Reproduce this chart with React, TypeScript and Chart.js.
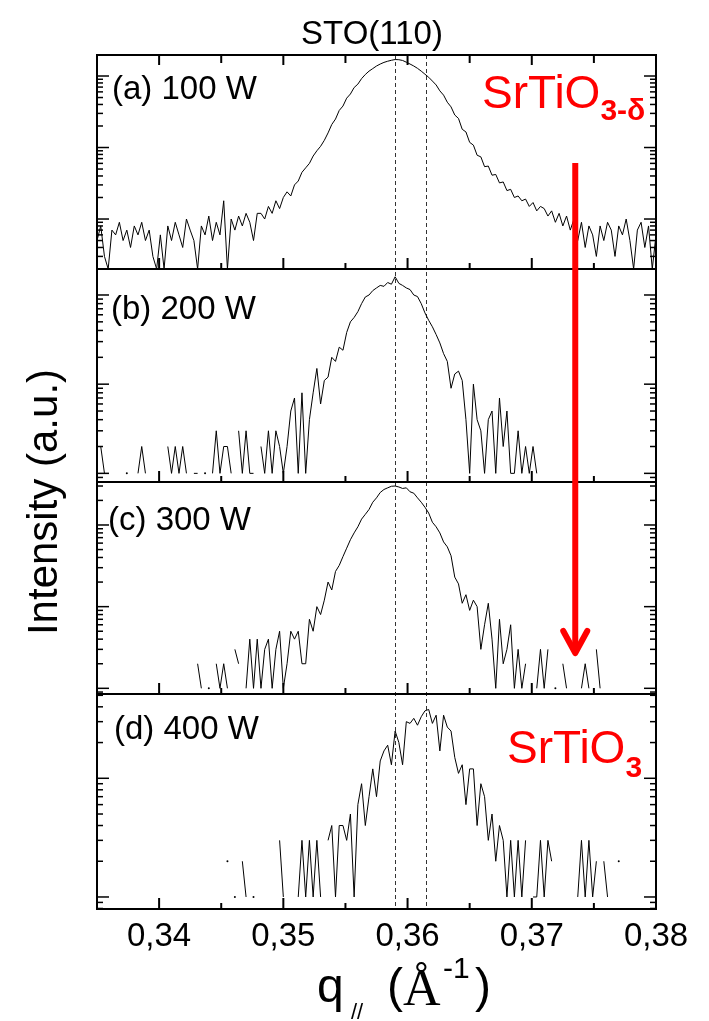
import React, { useEffect, useRef } from "react";
import { Chart, registerables } from "chart.js";

Chart.register(...registerables);

// ---------------- data ----------------
const Q_START = 0.335; // first q of the measurement grid
const Q_STEP = 0.0003; // q step of the measurement grid
const Q_MIN = 0.335;
const Q_MAX = 0.38;
const X_TICK_VALUES = [0.34, 0.35, 0.36, 0.37, 0.38];
const X_MINOR_TICK_VALUES = [0.345, 0.355, 0.365, 0.375];
const REFERENCE_Q = [0.359, 0.3615];
const ARROW_Q = 0.3735;
const PANEL_LABELS = ["(a) 100 W", "(b) 200 W", "(c) 300 W", "(d) 400 W"];
const SERIES_START_INDEX = [0, 0, 27, 35];
const Y_MIN = [2.0, 0.8, 0.852, 0.792];
const Y_MAX = [1967, 195.6, 336, 51.3];

const intensity100W = [
  5, 8, 3, 2, 7, 6, 9, 5, 7, 4,
  8, 6, 9, 5, 7, 3, 2, 6, 2, 8,
  5, 9, 6, 4, 10, 7, 5, 2, 8, 6,
  11, 5, 9, 6, 18, 2, 10, 7, 11, 8,
  12, 9, 5, 12, 12, 10, 15, 12, 18, 14,
  20, 24, 21, 30, 34, 45, 52, 60, 76, 90,
  104, 126, 160, 210, 250, 330, 380, 490, 560, 690,
  770, 920, 1050, 1170, 1270, 1380, 1470, 1550, 1610, 1660,
  1700, 1690, 1650, 1560, 1470, 1380, 1280, 1170, 1060, 960,
  850, 750, 620, 540, 430, 370, 285, 255, 180, 165,
  118, 108, 78, 74, 54, 55, 41, 42, 32, 33,
  25, 26, 20, 21, 18, 19, 15, 17, 13, 15,
  14, 11, 13, 9, 12, 8, 11, 7, 10, 5,
  9, 4, 8, 6, 3, 8, 5, 9, 7, 3,
  8, 6, 10, 5, 2, 7, 9, 4, 8, 2,
  6,
];

const intensity200W = [
  2, 2, 1, null, null, null, null, null, 1, null,
  null, 1, 2, 1, null, null, null, null, null, 2,
  1, 2, 1, 2, 1, null, 1, 1, null, 1,
  null, 1, 3, 1, 2, 2, 1, null, 3, 1,
  3, 1, 1, null, 2, 1, 3, 1, 3, 2,
  1, 2, 5, 7, 1, 8, 1, 4, 8, 15,
  6, 11, 12, 20, 18, 26, 24, 38, 50, 56,
  65, 80, 95, 100, 112, 120, 128, 125, 138, 132,
  160, 135, 128, 120, 115, 100, 96, 80, 63, 52,
  44, 36, 29, 22, 18, 9, 13, 14, 11, 4,
  1, 10, 4, 3, 1, 4, 5, 1, 7, 2,
  5, 1, 1, 3, 1, 2, 1, 2, 1,
];

const intensity300W = [
  2, 1, null, 1, null, 2, 1, 2, 1, null,
  3, 2, null, 1, 4, 1, 4, 1, 3, 4,
  1, 3, 5, 1, 2, 5, 4, 5, 2, 2,
  7, 5, 10, 8, 12, 20, 16, 27, 32, 41,
  52, 66, 80, 95, 118, 135, 155, 190, 215, 250,
  272, 285, 298, 300, 292, 280, 285, 255, 245, 215,
  190, 165, 140, 108, 95, 80, 62, 54, 42, 23,
  19, 11, 14, 9, 12, 10, 3, 6, 11, 4,
  1, 7, 2, 3, 6, 1, 3, 1, 2, null,
  null, 1, 3, 1, 3, null, 1, null, 2, 1,
  null, null, null, 1, 2, 1, null, 3, 1,
];

const intensity400W = [
  2, null, 1, null, 2, 1, null, 1, null, null,
  null, null, null, null, 3, 1, null, null, null, 1,
  3, 1, 3, 1, 3, 1, null, 3, 4, 1,
  4, 4, 3, 5, 1, 6, 9, 4, 7, 12,
  7, 14, 17, 19, 13, 25, 20, 13, 30, 29,
  32, 28, 33, 37, 38, 29, 34, 17, 34, 27,
  25, 15, 11, 13, 6, 12, 12, 4, 9, 7,
  3, 5, 2, 4, 3, 1, 3, 1, 3, 1,
  3, null, 1, 1, 3, 1, 3, 2, null, null,
  null, null, null, null, 1, 3, 1, 3, 1, 2,
  null, 2, 1, null, null, 2,
];

const SERIES = [intensity100W, intensity200W, intensity300W, intensity400W];

// ---------------- layout / style ----------------
const W = 709;
const H = 1021;
const FONT = "'Liberation Sans', Arial, Helvetica, sans-serif";
const SERIF = "'Liberation Serif', 'Times New Roman', serif";
const Y_IDS = ["ya", "yb", "yc", "yd"];
const PANEL_WEIGHTS = [214, 213, 212, 215];
const LABEL_X = [112, 111, 108, 114];
const LABEL_DY = [44, 50, 48, 45];

function toPoints(vals: (number | null)[], start: number) {
  return vals.map((v, k) => ({
    x: +(Q_START + (start + k) * Q_STEP).toFixed(5),
    y: v,
  }));
}

function isolatedRadius(c: any) {
  const d = c.dataset.data as { x: number; y: number | null }[];
  const i = c.dataIndex;
  if (!d[i] || d[i].y == null) return 0;
  const prev = i > 0 ? d[i - 1].y : null;
  const next = i < d.length - 1 ? d[i + 1].y : null;
  return prev == null && next == null ? 1 : 0;
}

function seg(ctx: CanvasRenderingContext2D, x1: number, y1: number, x2: number, y2: number) {
  ctx.beginPath();
  ctx.moveTo(x1, y1);
  ctx.lineTo(x2, y2);
  ctx.stroke();
}

const decorPlugin = {
  id: "decor",
  beforeDatasetsDraw(chart: any) {
    const { ctx, chartArea } = chart;
    const xs = chart.scales.x;
    ctx.save();
    ctx.strokeStyle = "#333";
    ctx.lineWidth = 1;
    ctx.setLineDash([4, 3]);
    REFERENCE_Q.forEach((q) => {
      const px = Math.round(xs.getPixelForValue(q)) + 0.5;
      seg(ctx, px, chartArea.top, px, chartArea.bottom);
    });
    ctx.restore();
  },
  beforeDatasetDraw(chart: any, args: any) {
    const ys = args.meta.yScale;
    const { ctx, chartArea } = chart;
    ctx.save();
    ctx.beginPath();
    ctx.rect(chartArea.left, ys.top, chartArea.right - chartArea.left, ys.bottom - ys.top);
    ctx.clip();
  },
  afterDatasetDraw(chart: any) {
    chart.ctx.restore();
  },
  afterDraw(chart: any) {
    const { ctx, chartArea } = chart;
    const xs = chart.scales.x;
    const L = chartArea.left;
    const R = chartArea.right;
    ctx.save();
    ctx.strokeStyle = "#000";
    ctx.setLineDash([]);

    // y ticks (log, inward on both sides) and x ticks
    Y_IDS.forEach((id, p) => {
      const s = chart.scales[id];
      const lo = s.min;
      const hi = s.max;
      ctx.lineWidth = 1.5;
      for (let e = Math.floor(Math.log10(lo)); e <= Math.ceil(Math.log10(hi)); e++) {
        for (let m = 1; m <= 9; m++) {
          const v = m * Math.pow(10, e);
          if (v <= lo * 1.001 || v >= hi / 1.001) continue;
          const py = s.getPixelForValue(v);
          const len = m === 1 ? 12 : 6;
          seg(ctx, L, py, L + len, py);
          seg(ctx, R - len, py, R, py);
        }
      }
      ctx.lineWidth = 2;
      X_TICK_VALUES.forEach((q) => {
        const px = xs.getPixelForValue(q);
        seg(ctx, px, s.bottom, px, s.bottom - 11);
        if (p === 0) seg(ctx, px, s.top, px, s.top + 10);
      });
      X_MINOR_TICK_VALUES.forEach((q) => {
        const px = xs.getPixelForValue(q);
        seg(ctx, px, s.bottom, px, s.bottom - 6);
        if (p === 0) seg(ctx, px, s.top, px, s.top + 8);
      });
    });

    // frames
    ctx.lineWidth = 2;
    Y_IDS.forEach((id) => {
      const s = chart.scales[id];
      ctx.strokeRect(L, s.top, R - L, s.bottom - s.top);
    });

    // panel labels
    ctx.fillStyle = "#000";
    ctx.textAlign = "left";
    ctx.textBaseline = "alphabetic";
    ctx.font = `33px ${FONT}`;
    PANEL_LABELS.forEach((t, p) => {
      const s = chart.scales[Y_IDS[p]];
      ctx.fillText(t, LABEL_X[p], s.top + LABEL_DY[p]);
    });

    // title
    ctx.textAlign = "center";
    ctx.font = `33px ${FONT}`;
    ctx.fillText("STO(110)", 372, 44);

    // y axis title
    ctx.save();
    ctx.translate(57, 502);
    ctx.rotate(-Math.PI / 2);
    ctx.textAlign = "center";
    ctx.font = `42px ${FONT}`;
    ctx.fillText("Intensity (a.u.)", 0, 0);
    ctx.restore();

    // x axis title  q// (Å-1)
    ctx.textAlign = "left";
    ctx.font = `48px ${FONT}`;
    ctx.fillText("q", 317, 1002);
    ctx.font = `22px ${FONT}`;
    ctx.fillText("//", 351, 1019);
    ctx.font = `48px ${FONT}`;
    ctx.fillText("(", 387, 1002);
    ctx.font = `52px ${SERIF}`;
    ctx.fillText("\u00C5", 403, 1005);
    ctx.font = `30px ${FONT}`;
    ctx.fillText("-1", 443, 978);
    ctx.font = `48px ${FONT}`;
    ctx.fillText(")", 475, 1002);

    // red annotations
    ctx.fillStyle = "#ff0000";
    ctx.strokeStyle = "#ff0000";
    const sa = chart.scales.ya;
    const sc = chart.scales.yc;
    const sd = chart.scales.yd;
    ctx.font = `46px ${FONT}`;
    ctx.fillText("SrTiO", 482, sa.top + 53);
    let w = ctx.measureText("SrTiO").width;
    ctx.font = `bold 30px ${FONT}`;
    ctx.fillText("3-\u03B4", 482 + w, sa.top + 65);

    ctx.font = `46px ${FONT}`;
    ctx.fillText("SrTiO", 507, sd.top + 69);
    w = ctx.measureText("SrTiO").width;
    ctx.font = `bold 30px ${FONT}`;
    ctx.fillText("3", 507 + w, sd.top + 83);

    const ax = xs.getPixelForValue(ARROW_Q);
    ctx.lineWidth = 6;
    ctx.lineCap = "butt";
    seg(ctx, ax, sa.top + 108, ax, sc.top + 170);
    ctx.lineJoin = "round";
    ctx.lineCap = "round";
    ctx.beginPath();
    ctx.moveTo(ax - 12, sc.top + 149);
    ctx.lineTo(ax, sc.top + 171);
    ctx.lineTo(ax + 12, sc.top + 149);
    ctx.stroke();

    ctx.restore();
  },
};

function yScale(p: number) {
  return {
    type: "logarithmic" as const,
    position: "left" as const,
    stack: "panels",
    stackWeight: PANEL_WEIGHTS[p],
    weight: 4 - p,
    min: Y_MIN[p],
    max: Y_MAX[p],
    bounds: "data" as const,
    grid: { display: false, drawTicks: false },
    border: { display: false },
    ticks: { display: false },
  };
}

export default function App() {
  const ref = useRef<HTMLCanvasElement | null>(null);

  useEffect(() => {
    if (!ref.current) return;
    const datasets = SERIES.map((vals, p) => ({
      label: PANEL_LABELS[p],
      data: toPoints(vals, SERIES_START_INDEX[p]),
      yAxisID: Y_IDS[p],
      borderColor: "#000",
      borderWidth: 1,
      backgroundColor: "#000",
      pointRadius: isolatedRadius,
      pointBorderWidth: 0,
      pointBackgroundColor: "#000",
      tension: 0,
      spanGaps: false,
      fill: false,
    }));

    const chart = new Chart(ref.current, {
      type: "line",
      data: { datasets: datasets as any },
      options: {
        responsive: false,
        animation: false,
        devicePixelRatio: 1,
        events: [],
        layout: { padding: { left: 97, right: 53, top: 55, bottom: 0 } },
        plugins: {
          legend: { display: false },
          tooltip: { enabled: false },
          title: { display: false },
        },
        scales: {
          x: {
            type: "linear",
            position: "bottom",
            min: Q_MIN,
            max: Q_MAX,
            bounds: "data",
            grid: { display: false, drawTicks: false },
            border: { display: false },
            ticks: {
              color: "#000",
              font: { family: FONT, size: 33 },
              padding: 8,
              maxRotation: 0,
              autoSkip: false,
              callback: (v: any) => Number(v).toFixed(2).replace(".", ","),
            },
            afterBuildTicks: (s: any) => {
              s.ticks = X_TICK_VALUES.map((v) => ({ value: v }));
            },
            afterFit: (s: any) => {
              s.height = 112;
            },
          },
          ya: yScale(0),
          yb: yScale(1),
          yc: yScale(2),
          yd: yScale(3),
        } as any,
      },
      plugins: [decorPlugin],
    });
    return () => chart.destroy();
  }, []);

  return (
    <div style={{ position: "absolute", left: 0, top: 0, width: W, height: H, background: "#fff" }}>
      <canvas ref={ref} width={W} height={H} style={{ display: "block" }} />
    </div>
  );
}
